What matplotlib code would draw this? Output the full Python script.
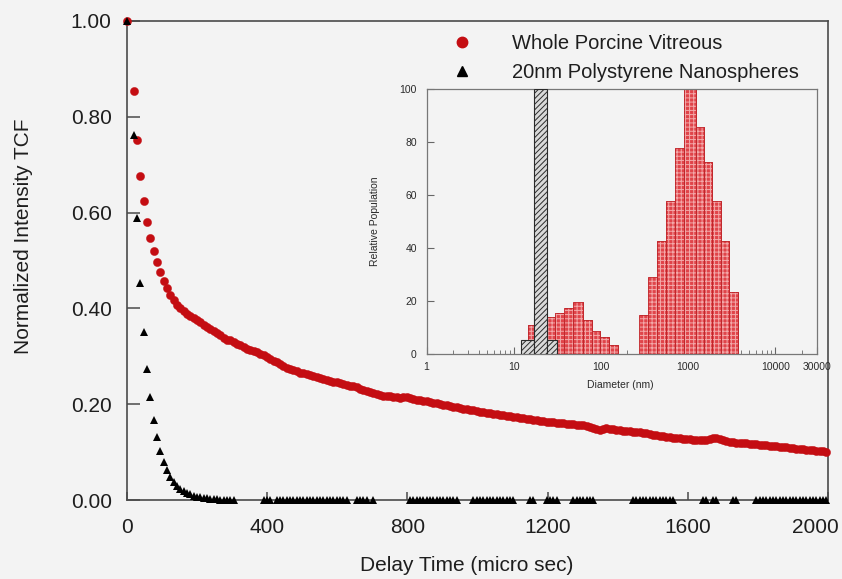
import numpy as np
import matplotlib
matplotlib.use("Agg")
import matplotlib.pyplot as plt
import matplotlib.transforms as mtransforms
from matplotlib.lines import Line2D
from matplotlib.ticker import FixedLocator, LogLocator, NullFormatter

plt.rcParams['font.family'] = ['Liberation Sans', 'DejaVu Sans']
plt.rcParams['hatch.linewidth'] = 0.7

# ---------------- data ----------------
# delay times (micro sec): first point at 0, then correlator channels every 9.5 us from 19 us
delay_us = np.concatenate([[0.0], 19.0 + 9.5 * np.arange(209)])

vitreous = [
    1.000, 0.854, 0.752, 0.677, 0.624, 0.580, 0.548, 0.520, 0.496, 0.477,
    0.458, 0.442, 0.428, 0.417, 0.408, 0.400, 0.394, 0.388, 0.384, 0.380,
    0.376, 0.372, 0.366, 0.362, 0.357, 0.352, 0.348, 0.344, 0.339, 0.335,
    0.333, 0.329, 0.326, 0.323, 0.319, 0.316, 0.313, 0.311, 0.308, 0.305,
    0.302, 0.298, 0.294, 0.291, 0.288, 0.284, 0.280, 0.276, 0.274, 0.271,
    0.269, 0.266, 0.265, 0.263, 0.261, 0.259, 0.257, 0.255, 0.253, 0.251,
    0.249, 0.247, 0.246, 0.244, 0.242, 0.241, 0.239, 0.237, 0.235, 0.232,
    0.229, 0.227, 0.225, 0.223, 0.221, 0.219, 0.218, 0.217, 0.217, 0.216,
    0.215, 0.213, 0.214, 0.215, 0.212, 0.210, 0.209, 0.208, 0.207, 0.206,
    0.204, 0.203, 0.202, 0.200, 0.199, 0.198, 0.196, 0.195, 0.194, 0.192,
    0.191, 0.190, 0.188, 0.187, 0.185, 0.184, 0.183, 0.182, 0.181, 0.180,
    0.179, 0.178, 0.177, 0.176, 0.175, 0.174, 0.173, 0.172, 0.171, 0.170,
    0.169, 0.168, 0.166, 0.165, 0.164, 0.163, 0.163, 0.162, 0.161, 0.160,
    0.160, 0.159, 0.158, 0.158, 0.157, 0.157, 0.156, 0.154, 0.152, 0.150,
    0.148, 0.147, 0.148, 0.150, 0.149, 0.148, 0.147, 0.146, 0.145, 0.145,
    0.144, 0.143, 0.142, 0.141, 0.140, 0.139, 0.138, 0.136, 0.135, 0.134,
    0.133, 0.132, 0.131, 0.130, 0.130, 0.129, 0.128, 0.128, 0.127, 0.126,
    0.125, 0.125, 0.125, 0.126, 0.127, 0.129, 0.129, 0.127, 0.125, 0.123,
    0.122, 0.121, 0.120, 0.119, 0.118, 0.118, 0.117, 0.116, 0.116, 0.115,
    0.114, 0.114, 0.113, 0.112, 0.112, 0.111, 0.111, 0.110, 0.109, 0.108,
    0.107, 0.107, 0.106, 0.105, 0.104, 0.104, 0.103, 0.102, 0.102, 0.101,
]

N = np.nan  # points below the axis (not visible in the figure)
polystyrene = [
    1.000, 0.763, 0.589, 0.453, 0.351, 0.273, 0.214, 0.168, 0.131, 0.103,
    0.080, 0.062, 0.048, 0.038, 0.030, 0.024, 0.019, 0.015, 0.012, 0.009,
    0.007, 0.006, 0.005, 0.004, 0.003, 0.002, 0.002, 0.001, 0.001, 0.000,
    0.000, 0.000,
    N, N, N, N, N, N, N, N,
    0, 0, 0, N,
    0, 0, 0, 0, 0, 0, 0, 0, 0, 0, 0, 0, 0, 0, 0, 0, 0, 0, 0, 0, 0, 0,
    N, N, 0, 0, 0, 0, N, 0,
    N, N, N, N, N, N, N, N, N, N,
    0, 0, 0, 0, 0, 0, 0, 0, 0, 0, 0, 0, 0, 0, 0,
    N, N, N, N,
    0, 0, 0, 0, 0, 0, 0, 0, 0, 0, 0, 0, 0,
    N, N, N, N, 0, 0, N, N, N, 0, 0, 0, 0, N, N, N, N,
    0, 0, 0, 0, 0, 0, 0,
    N, N, N, N, N, N, N, N, N, N, N,
    0, 0, 0, 0, 0, 0, 0, 0, 0, 0, 0, 0, 0,
    N, N, N, N, N, N, N, N,
    0, 0, N, 0, 0, N, N, N, N, 0, 0, N, N, N, N, N,
    0, 0, 0, 0, 0, 0, 0, 0, 0, 0, 0, 0, 0, 0, 0, 0, 0, 0, 0, 0, 0, 0,
]

y_ticks = [0.0, 0.2, 0.4, 0.6, 0.8, 1.0]
y_ticklabels = ["0.00", "0.20", "0.40", "0.60", "0.80", "1.00"]
x_ticks = [0, 400, 800, 1200, 1600, 2000]

# inset histogram: diameters (nm) bin edges and relative population
vit_left = [14.4, 18.3, 23.2, 29.4, 37.3, 47.2, 62.6, 79.3, 98.7, 125.1,
            270, 343, 439, 556, 705, 900, 1245, 1524, 1866, 2366, 2965]
vit_right = [18.3, 23.2, 29.4, 37.3, 47.2, 62.6, 79.3, 98.7, 125.1, 155.6,
             343, 439, 556, 705, 900, 1245, 1524, 1866, 2366, 2965, 3758]
vit_pop = [11, 13, 14, 15.5, 17.5, 19.7, 13, 8.5, 6.5, 3.4,
           14.7, 28.9, 42.8, 57.7, 77.6, 100, 85.8, 72.3, 57.7, 42.8, 23.3]

ps_left = [12.25, 17.06, 23.84]
ps_right = [17.06, 23.84, 31.6]
ps_pop = [5.3, 100, 5.3]

inset_xticks = [1, 10, 100, 1000, 10000, 30000]
inset_xticklabels = ["1", "10", "100", "1000", "10000", "30000"]
inset_yticks = [0, 20, 40, 60, 80, 100]

# ---------------- figure ----------------
W, H = 842, 579
bg = '#f3f3f3'
red = '#c40d12'
spine_c = '#4a4a4a'
txt_c = '#1e1e1e'

fig = plt.figure(figsize=(W / 100, H / 100), dpi=100, facecolor=bg)
ax = fig.add_axes([127 / W, 79 / H, 701 / W, 479 / H])
ax.set_facecolor(bg)

ax.plot(delay_us, vitreous, 'o', color=red, ms=5.9, mec=red, mew=0.3,
        clip_on=False, zorder=3)
ax.plot(delay_us, polystyrene, '^', color='black', ms=5.6, mew=0,
        clip_on=False, zorder=4)

ax.set_xlim(0, 2000)
ax.set_ylim(0, 1.0)
ax.set_xticks(x_ticks)
ax.set_yticks(y_ticks)
ax.set_yticklabels(y_ticklabels)
ax.tick_params(axis='both', direction='in', colors=spine_c, labelcolor=txt_c,
               labelsize=15, width=1.1)
ax.tick_params(axis='y', length=9, pad=11)
ax.tick_params(axis='x', length=6, pad=13)
for s in ax.spines.values():
    s.set_color(spine_c)
    s.set_linewidth(1.2)

# keep the last x tick label inside the figure edge
last_lbl = ax.get_xticklabels()[-1]
last_lbl.set_transform(last_lbl.get_transform() +
                       mtransforms.ScaledTranslation(-13 / 100, 0, fig.dpi_scale_trans))

ax.set_xlabel("Delay Time (micro sec)", fontsize=15, color=txt_c)
ax.set_ylabel("Normalized Intensity TCF", fontsize=15, color=txt_c)
ax.xaxis.set_label_coords(0.484, -0.117)
ax.yaxis.set_label_coords(-0.134, 0.55)

handles = [
    Line2D([], [], marker='o', ls='none', color=red, ms=7.5),
    Line2D([], [], marker='^', ls='none', color='black', ms=7.5),
]
leg = ax.legend(handles, ["Whole Porcine Vitreous", "20nm Polystyrene Nanospheres"],
                loc='upper left', bbox_to_anchor=((452 - 127) / 701, (500 - 34) / 479),
                frameon=False, fontsize=14.5, handlelength=1.0, handletextpad=2.0,
                borderpad=0, borderaxespad=0, labelspacing=0.5)
for t in leg.get_texts():
    t.set_color(txt_c)

# ---------------- inset ----------------
axi = fig.add_axes([426.5 / W, (H - 354) / H, (817 - 426.5) / W, (354 - 89) / H])
axi.set_facecolor(bg)
axi.set_xscale('log')
axi.set_xlim(1, 30000)
axi.set_ylim(0, 100)

vl = np.array(vit_left)
vr = np.array(vit_right)
axi.bar(vl, vit_pop, width=vr - vl, align='edge', color='#e0444a',
        edgecolor='#c0262b', linewidth=0.6, zorder=2)
axi.bar(vl, vit_pop, width=vr - vl, align='edge', color='none',
        edgecolor='#f3a9aa', hatch='++++', linewidth=0, zorder=2.1)
axi.bar(vl, vit_pop, width=vr - vl, align='edge', color='none',
        edgecolor='#c0262b', linewidth=0.6, zorder=2.2)

pl = np.array(ps_left)
pr = np.array(ps_right)
axi.bar(pl, ps_pop, width=pr - pl, align='edge', color='#d9d9d9',
        edgecolor='#2a2a2a', hatch='//////', linewidth=0.8, zorder=3)

axi.xaxis.set_major_locator(FixedLocator(inset_xticks))
axi.set_xticklabels(inset_xticklabels)
axi.xaxis.set_minor_locator(LogLocator(base=10, subs=np.arange(2, 10), numticks=20))
axi.xaxis.set_minor_formatter(NullFormatter())
axi.set_yticks(inset_yticks)
axi.tick_params(axis='both', which='major', direction='in', length=5, width=0.8,
                colors='#666666', labelcolor='#2a2a2a', labelsize=7.5)
axi.tick_params(axis='x', which='major', pad=6)
axi.tick_params(axis='y', which='major', pad=7)
axi.tick_params(axis='x', which='minor', direction='in', length=3, width=0.6,
                colors='#666666')
for s in axi.spines.values():
    s.set_color('#777777')
    s.set_linewidth(0.9)

axi.set_xlabel("Diameter (nm)", fontsize=7.5, color='#2a2a2a')
axi.set_ylabel("Relative Population", fontsize=7.5, color='#2a2a2a')
axi.xaxis.set_label_coords((620 - 426.5) / (817 - 426.5), -0.1)
axi.yaxis.set_label_coords(-0.12, 0.5)

fig.savefig("out.png", dpi=100, facecolor=bg)
